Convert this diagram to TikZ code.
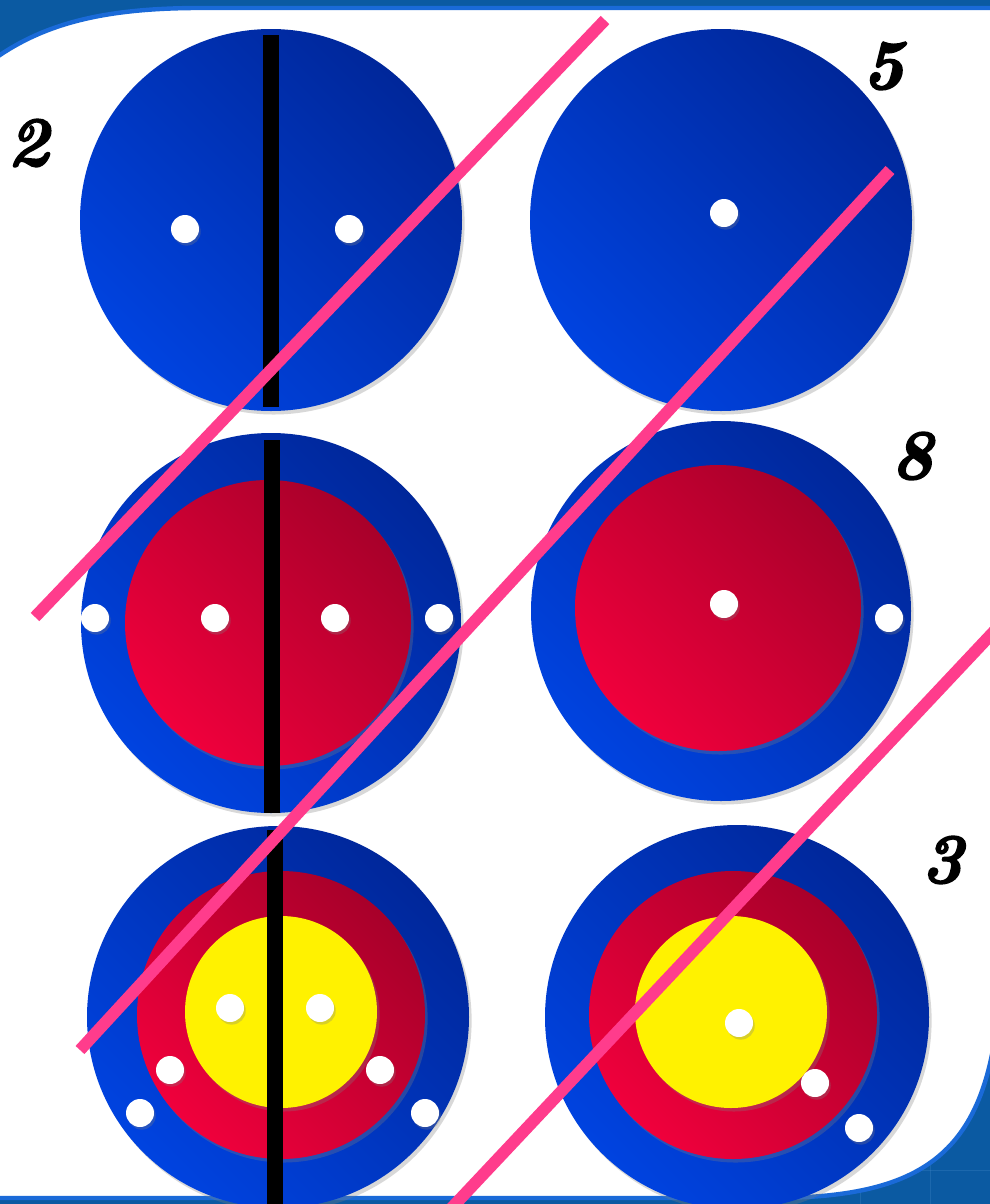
\documentclass[tikz,border=0pt]{standalone}
\usepackage{fontspec}
\usepackage{tikz}
\usetikzlibrary{shadows}
\newfontfamily\digitfont{Latin Modern Roman}[BoldItalicFeatures={FakeBold=2.5}]
\definecolor{deskblue}{HTML}{0B5AA2}
\definecolor{gridblue}{HTML}{3C84C4}
\definecolor{rimblue}{HTML}{1A6AD8}
\definecolor{ringdark}{HTML}{00279A}
\definecolor{ringlight}{HTML}{0043E0}
\definecolor{reddark}{HTML}{A8002A}
\definecolor{redlight}{HTML}{F0003C}
\definecolor{cutpink}{HTML}{FF3C8C}

\begin{document}
\begin{tikzpicture}[x=0.02cm,y=-0.02cm,
  castshadow/.style={drop shadow={shadow xshift=1.5pt,shadow yshift=-2pt,opacity=.3}},
  bluedisc/.style={castshadow,shading=axis,top color=ringdark,bottom color=ringlight,shading angle=-45},
  reddisc/.style={castshadow,shading=axis,top color=reddark,bottom color=redlight,shading angle=-45},
  yellowdisc/.style={castshadow,fill=yellow},
  hole/.style={drop shadow={shadow xshift=1pt,shadow yshift=-1.5pt,opacity=.3},fill=white},
  split/.style={line width=9pt},
  cutline/.style={draw=cutpink,line width=6.8pt,drop shadow={shadow xshift=1pt,shadow yshift=-1pt,opacity=.25}},
  digit/.style={font=\digitfont\fontsize{40}{40}\selectfont\bfseries\itshape}]
  \clip (0,0) rectangle (990,1204);
  % background and panel
  \fill[deskblue] (0,0) rectangle (990,1204);
  \foreach \gx in {860,930} \draw[gridblue,opacity=.35] (\gx,1100) -- (\gx,1204);
  \draw[gridblue,opacity=.35] (850,1170) -- (990,1170);
  \filldraw[white,draw=rimblue,line width=2.5pt] (-10,62) .. controls (40,25) and (100,8) .. (200,8) -- (1000,8) -- (1000,990)
    .. controls (990,1150) and (930,1198) .. (770,1198) -- (-10,1198) -- cycle;

  % top row
  \path[bluedisc] (271,220) circle (191);
  \path[bluedisc] (721,220) circle (191);
  \draw[split] (271,35) -- (271,407);
  \path[hole] (185,229) circle (14);
  \path[hole] (349,229) circle (14);
  \path[hole] (724,213) circle (14);

  % middle row
  \path[bluedisc] (271,623) circle (190);
  \path[reddisc] (268,623) circle (143);
  \path[bluedisc] (721,611) circle (190);
  \path[reddisc] (718,608) circle (143);
  \draw[split] (272,440) -- (272,813);
  \foreach \hx in {95,215,335,439} \path[hole] (\hx,618) circle (14);
  \path[hole] (724,604) circle (14);
  \path[hole] (889,618) circle (14);

  % bottom row
  \path[bluedisc] (278,1017) circle (191);
  \path[reddisc] (281,1015) circle (144);
  \path[yellowdisc] (281,1012) circle (96);
  \path[bluedisc] (737,1017) circle (192);
  \path[reddisc] (733,1015) circle (144);
  \path[yellowdisc] (731,1012) circle (96);
  \draw[split] (275,830) -- (275,1210);
  \path[hole] (230,1008) circle (14);
  \path[hole] (320,1008) circle (14);
  \path[hole] (170,1070) circle (14);
  \path[hole] (380,1070) circle (14);
  \path[hole] (140,1113) circle (14);
  \path[hole] (425,1113) circle (14);
  \path[hole] (739,1023) circle (14);
  \path[hole] (815,1083) circle (14);
  \path[hole] (859,1128) circle (14);

  % cuts
  \coordinate (cutA1) at (605,20);
  \coordinate (cutA2) at (35,617);
  \coordinate (cutB1) at (890,170);
  \coordinate (cutB2) at (80,1050);
  \coordinate (cutC1) at (1000,625);
  \coordinate (cutC2) at (445,1215);
  \draw[cutline] (cutA1) -- (cutA2);
  \draw[cutline] (cutB1) -- (cutB2);
  \draw[cutline] (cutC1) -- (cutC2);

  % counts
  \node[digit] (two) at (28,143) {2};
  \node[digit] (five) at (883,66) {5};
  \node[digit] (eight) at (912,456) {8};
  \node[digit] (three) at (942,860) {3};
\end{tikzpicture}
\end{document}
